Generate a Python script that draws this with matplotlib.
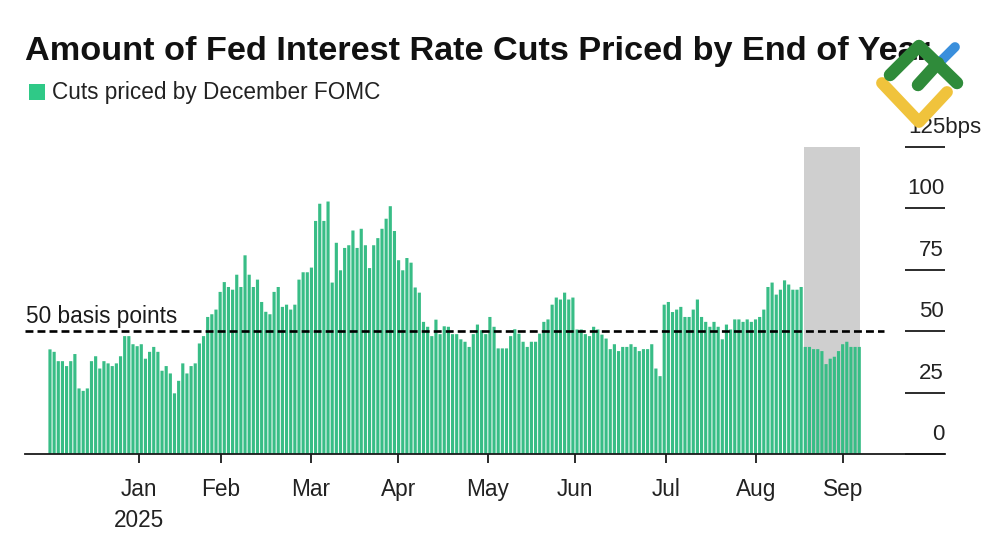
import matplotlib
matplotlib.use("Agg")
import matplotlib.pyplot as plt
from matplotlib.lines import Line2D
from matplotlib.patches import Rectangle
from matplotlib.transforms import ScaledTranslation

plt.rcParams['font.family'] = ['Liberation Sans', 'DejaVu Sans']

cuts_priced = [
    42.6, 41.6, 37.8, 37.8, 35.8, 37.8, 40.7, 26.7, 25.7, 26.7,
    37.8, 39.8, 34.8, 37.8, 36.9, 35.8, 36.9, 39.8, 48.0, 48.0,
    44.7, 43.9, 44.7, 38.8, 41.6, 43.6, 41.6, 33.9, 35.8, 32.8,
    24.7, 29.8, 36.9, 32.8, 35.8, 36.9, 45.0, 48.0, 55.8, 56.9,
    58.8, 66.0, 70.0, 68.0, 66.9, 73.0, 68.0, 80.9, 73.0, 68.0,
    71.0, 61.9, 57.9, 56.9, 66.0, 68.0, 59.9, 60.8, 58.8, 60.8,
    71.0, 74.0, 74.0, 75.9, 94.9, 101.9, 94.9, 102.8, 69.8, 86.0,
    74.8, 83.9, 85.0, 91.0, 83.9, 91.7, 85.0, 75.7, 85.0, 87.9,
    91.7, 95.8, 100.9, 90.8, 78.9, 74.8, 79.8, 77.9, 67.8, 65.7,
    53.8, 51.8, 48.0, 54.7, 48.8, 52.0, 51.8, 48.8, 48.8, 46.7,
    45.7, 43.6, 48.8, 52.7, 50.4, 48.8, 55.8, 51.8, 43.0, 43.0,
    43.0, 48.0, 50.8, 49.0, 45.7, 43.6, 45.7, 45.7, 49.0, 53.8,
    54.8, 60.8, 63.7, 62.9, 65.7, 62.9, 63.7, 50.7, 50.7, 48.8,
    48.0, 51.8, 50.7, 48.6, 47.0, 42.7, 44.7, 41.9, 43.6, 43.6,
    44.7, 43.6, 41.9, 42.7, 42.7, 44.7, 34.8, 31.7, 60.8, 61.9,
    57.8, 58.8, 59.9, 55.8, 55.8, 58.8, 62.9, 55.8, 53.8, 51.8,
    53.8, 51.8, 46.7, 52.7, 50.7, 54.8, 54.8, 53.8, 54.8, 53.8,
    54.8, 55.8, 58.8, 68.0, 69.8, 64.9, 66.9, 70.7, 69.0, 66.9,
    66.9, 68.0, 43.6, 43.6, 42.7, 42.7, 41.9, 36.6, 38.8, 39.6,
    41.9, 44.7, 45.7, 43.6, 43.6, 43.6,
]
month_ticks = [21.45, 41.1, 62.8, 83.9, 105.5, 126.5, 148.4, 170.1, 191.1]
month_labels = ['Jan\n2025', 'Feb', 'Mar', 'Apr', 'May', 'Jun', 'Jul', 'Aug', 'Sep']
y_ticks = [0, 25, 50, 75, 100, 125]
y_labels = ['0', '25', '50', '75', '100', '125bps']
threshold = 50
highlight = (181.7, 195.2)

BAR = '#38bd86'
W, H = 1000, 545
fig = plt.figure(figsize=(W / 100, H / 100), dpi=100, facecolor='white')
ax = fig.add_axes([25 / W, 1 - 454 / H, 920 / W, 307 / H])
ax.set_xlim(-6.02, 215.66)
ax.set_ylim(0, 125)
for s in ['top', 'left', 'right']:
    ax.spines[s].set_visible(False)
ax.spines['bottom'].set_linewidth(1.3)
ax.spines['bottom'].set_color('#1a1a1a')

ax.axvspan(*highlight, color='#cfcfcf', lw=0, zorder=1)
bars = ax.bar(range(len(cuts_priced)), cuts_priced, width=0.76, color=BAR, lw=0, zorder=2)
for b in bars:
    b.set_snap(False)
ax.plot([-6.02, 201], [threshold, threshold], color='black', lw=1.9,
        dashes=(3.0, 1.55), zorder=3)
ax.annotate('50 basis points', xy=(26 / W, 1 - 316 / H), xycoords='figure fraction',
            fontsize=16.3, va='center', ha='left', color='#1a1a1a')

ax.set_xticks(month_ticks, month_labels)
ax.tick_params(axis='x', length=6.5, width=1.3, color='#1a1a1a', labelsize=16.3,
               labelcolor='#222222', pad=11)
for lab in ax.get_xticklabels():
    lab.set_linespacing(1.42)
    lab.set_verticalalignment('top')

ax.yaxis.tick_right()
ax.set_yticks(y_ticks, y_labels)
ax.tick_params(axis='y', direction='in', length=28.8, width=1.3, color='#1a1a1a',
               labelsize=16, labelcolor='#222222', pad=0)
for i, lab in enumerate(ax.get_yticklabels()):
    lab.set_horizontalalignment('right')
    dx = (36 / 100 if y_labels[i].endswith('bps') else -1 / 100)
    lab.set_transform(lab.get_transform() + ScaledTranslation(dx, 22 / 100, fig.dpi_scale_trans))

fig.text(25 / W, 1 - 60 / H, 'Amount of Fed Interest Rate Cuts Priced by End of Year',
         fontsize=24.7, fontweight='bold', va='baseline', ha='left', color='#111111')
fig.add_artist(Rectangle((29 / W, 1 - 100 / H), 16 / W, 16 / H, transform=fig.transFigure,
                         color='#2fc987', lw=0))
fig.text(52 / W, 1 - 92 / H, 'Cuts priced by December FOMC', fontsize=16.3, va='center',
         ha='left', color='#222222')

def stroke(xs, ys, col, lw):
    fig.add_artist(Line2D([x / W for x in xs], [1 - y / H for y in ys], color=col, lw=lw,
                          solid_capstyle='round', solid_joinstyle='round',
                          transform=fig.transFigure, zorder=10))

stroke([955, 940], [47, 62], '#3a8fdc', 7)
stroke([882, 919, 947], [83, 122, 92], '#f0c33c', 8.5)
stroke([890, 919, 957], [75, 46, 83], '#2f8b3a', 9)
stroke([918, 938], [85, 63], '#2f8b3a', 9)

fig.savefig('out.png', dpi=100)
